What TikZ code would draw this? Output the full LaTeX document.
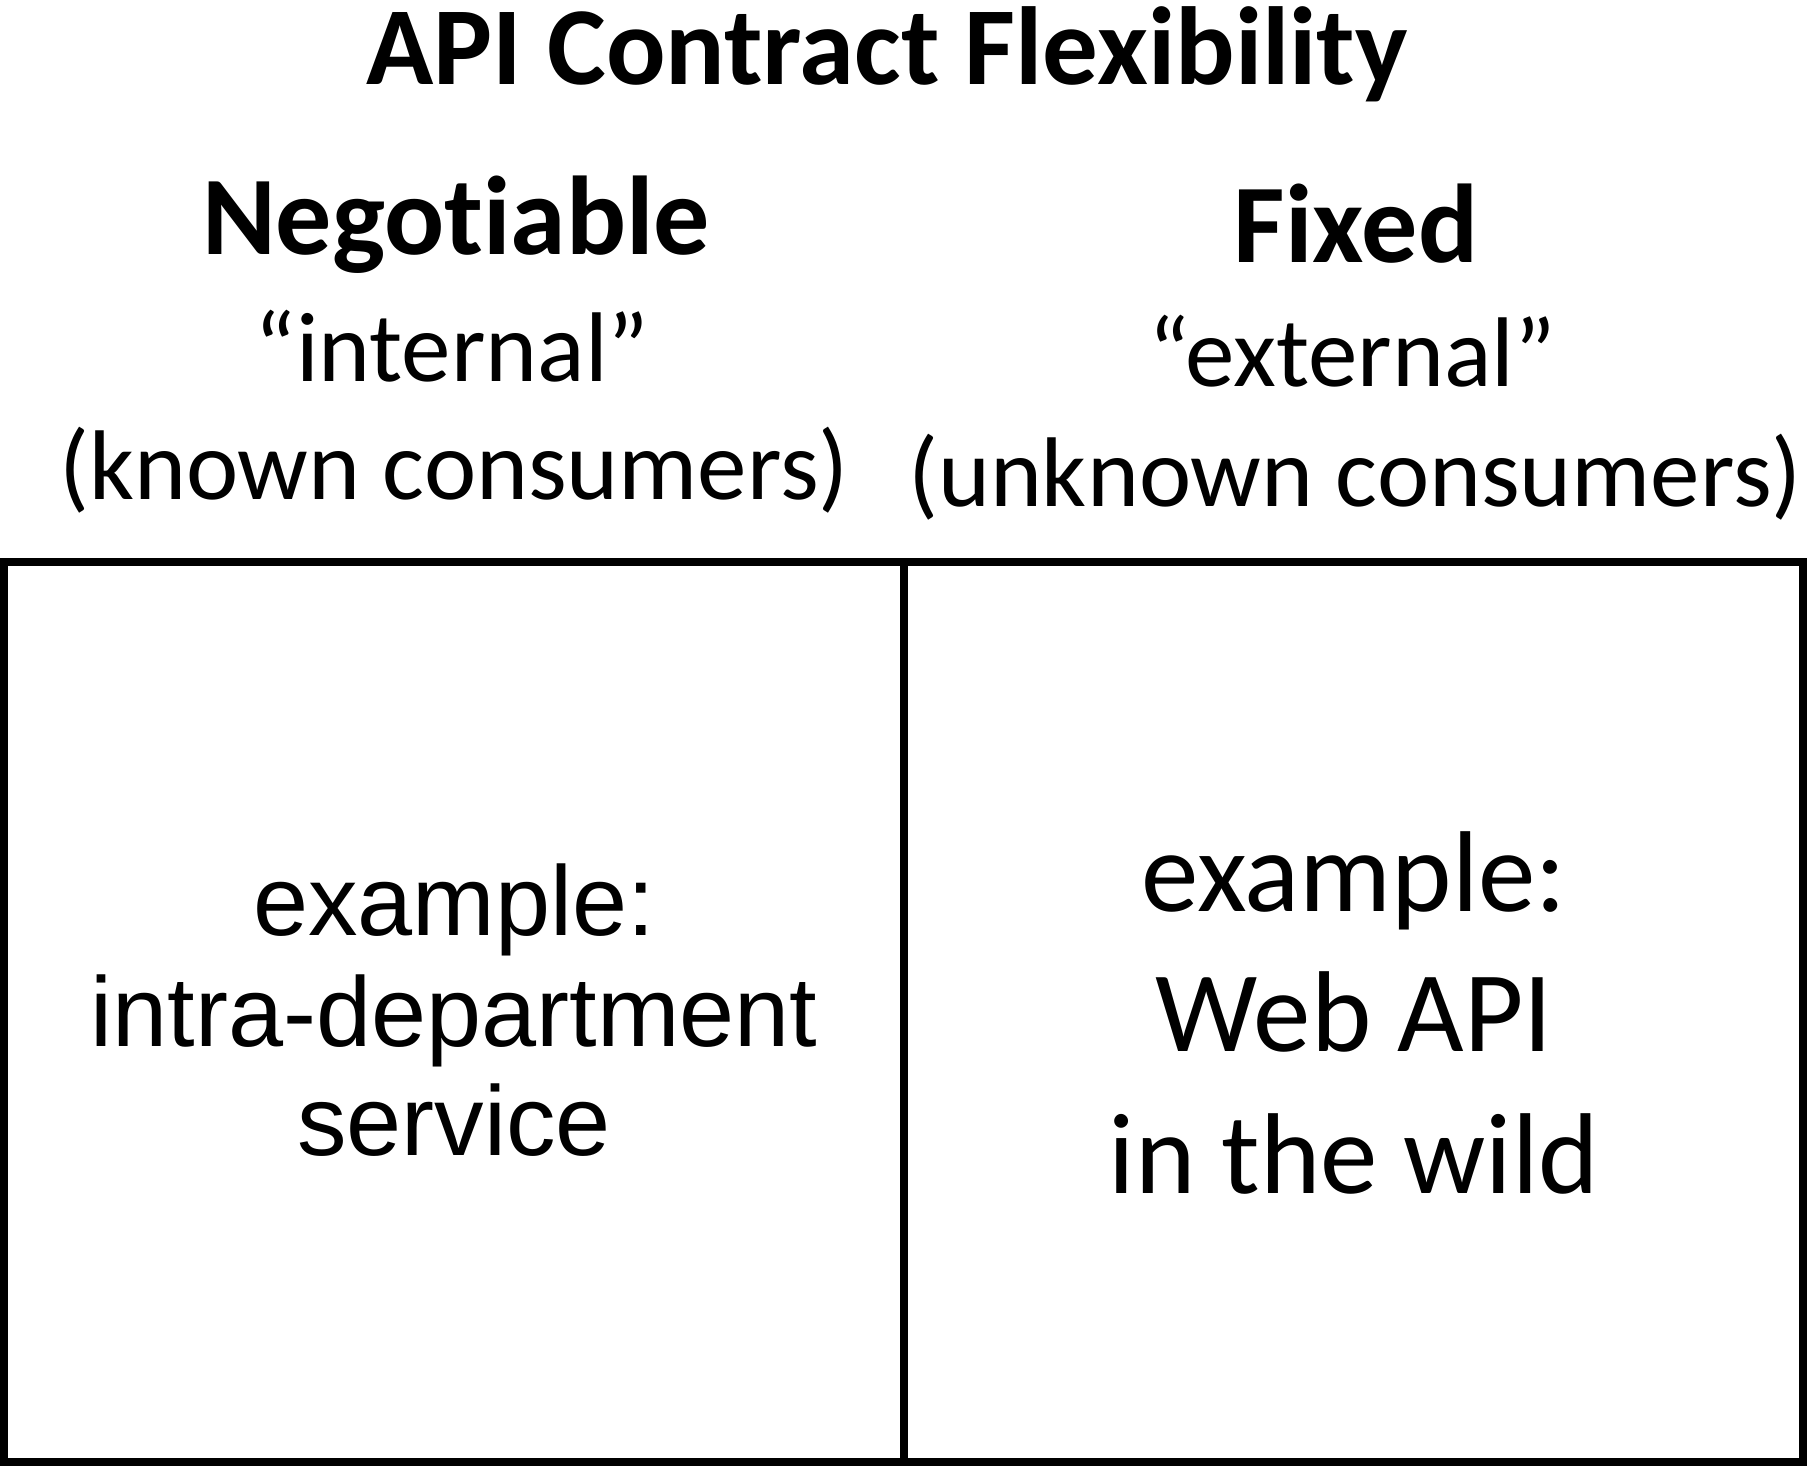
\documentclass[tikz,border=0pt]{standalone}
\usepackage{fontspec}
\setmainfont{Carlito}[Ligatures=NoCommon]
\newfontfamily\arialfont{Liberation Sans}
\begin{document}
\begin{tikzpicture}[x=1pt,y=-1pt,
  every node/.style={inner sep=0pt,outer sep=0pt,anchor=base},
  titletxt/.style={font=\fontsize{111}{116}\selectfont\bfseries},
  headtxt/.style={font=\fontsize{112}{118}\selectfont\bfseries},
  subtxt/.style={font=\fontsize{99}{104}\selectfont},
  leftbox/.style={font=\arialfont\fontsize{99}{104}\selectfont},
  rightbox/.style={font=\fontsize{115}{120}\selectfont},
  frame/.style={draw=black,line width=8pt}]
\useasboundingbox (0,0) rectangle (1809,1467);
\node[titletxt] (title) at (887,84) {API Contract Flexibility};
\node[headtxt] (neg) at (456,254) {Negotiable};
\node[headtxt] (fix) at (1356,262) {Fixed};
\node[subtxt] (int) at (452,381) {“internal”};
\node[subtxt] (ext) at (1352,386) {“external”};
\node[subtxt] (known) at (454,499) {(known consumers)};
\node[subtxt] (unknown) at (1355,506) {(unknown consumers)};
\coordinate (tl) at (4,562);
\coordinate (br) at (1803,1462);
\coordinate (dtop) at (904,562);
\coordinate (dbot) at (904,1462);
\draw[frame] (tl) rectangle (br);
\draw[frame] (dtop) -- (dbot);
\node[leftbox] (l1) at (454,935) {example:};
\node[leftbox] (l2) at (454,1046) {intra-department};
\node[leftbox] (l3) at (454,1155) {service};
\node[rightbox] (r1) at (1354,911) {example:};
\node[rightbox] (r2) at (1354,1051) {Web API};
\node[rightbox] (r3) at (1354,1193) {in the wild};
\end{tikzpicture}
\end{document}
